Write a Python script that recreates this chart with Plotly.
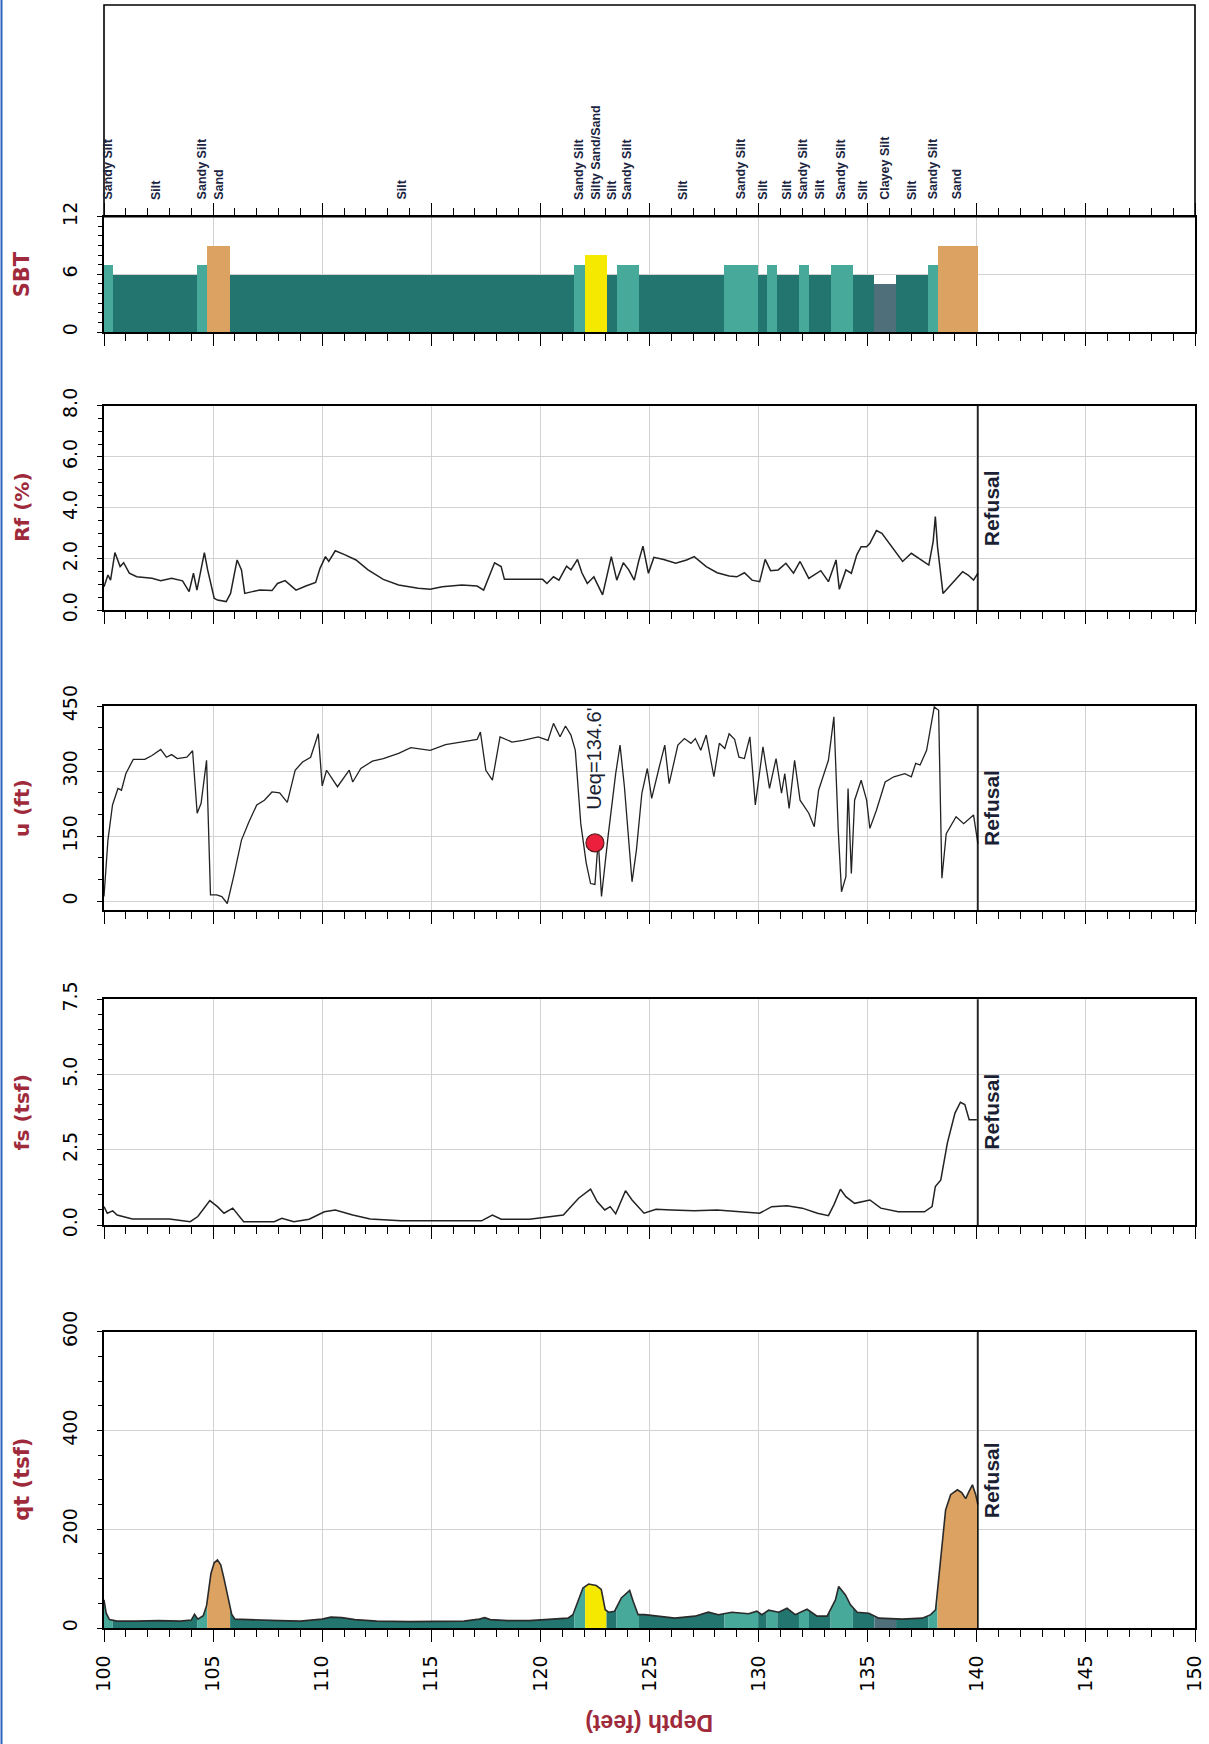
import numpy as np
import plotly.graph_objects as go

# ---------------- DATA ----------------
# SBT layers (depth top of each layer, type); last layer ends at refusal depth
layer_top = [100.0, 100.4, 104.27, 104.73, 105.78, 121.55, 122.05, 123.03, 123.49, 124.52,
             128.43, 129.98, 130.37, 130.86, 131.85, 132.31, 133.3, 134.32, 135.31, 136.3,
             137.78, 138.2]
refusal_depth = 140.05
layer_type = ["Sandy Silt", "Silt", "Sandy Silt", "Sand", "Silt", "Sandy Silt", "Silty Sand/Sand",
              "Silt", "Sandy Silt", "Silt", "Sandy Silt", "Silt", "Sandy Silt", "Silt", "Sandy Silt",
              "Silt", "Sandy Silt", "Silt", "Clayey Silt", "Silt", "Sandy Silt", "Sand"]
sbt_zone = {"Clayey Silt": 5, "Silt": 6, "Sandy Silt": 7, "Silty Sand/Sand": 8, "Sand": 9}

# SBT text labels (depth, text)
label_depth = [100.2, 102.35, 104.5, 105.3, 113.65, 121.8, 122.55, 123.25, 124.0, 126.5,
               129.2, 130.2, 131.3, 132.05, 132.8, 133.8, 134.75, 135.8, 137.0, 138.0, 139.1]
label_text = ["Sandy Silt", "Silt", "Sandy Silt", "Sand", "Silt", "Sandy Silt", "Silty Sand/Sand",
              "Silt", "Sandy Silt", "Silt", "Sandy Silt", "Silt", "Silt", "Sandy Silt", "Silt",
              "Sandy Silt", "Silt", "Clayey Silt", "Silt", "Sandy Silt", "Sand"]

# Rf (%)
rf_depth = [100.0, 100.18, 100.3, 100.5, 100.74, 100.9, 101.16, 101.5, 102.2, 102.6, 103.1, 103.6,
            103.9, 104.1, 104.26, 104.6, 104.75, 105.05, 105.2, 105.6, 105.8, 106.1, 106.3, 106.45,
            106.8, 107.15, 107.7, 107.95, 108.3, 108.8, 109.25, 109.7, 109.9, 110.15, 110.3, 110.6,
            111.05, 111.55, 112.1, 112.8, 113.5, 114.4, 114.95, 115.5, 116.4, 117.1, 117.4, 117.9,
            118.2, 118.35, 119.25, 120.1, 120.3, 120.6, 120.85, 121.2, 121.4, 121.7, 121.9, 122.15,
            122.45, 122.85, 123.25, 123.5, 123.8, 124.05, 124.3, 124.5, 124.7, 124.95, 125.2, 125.65,
            126.2, 126.7, 127.05, 127.6, 128.1, 128.65, 129.0, 129.35, 129.7, 130.05, 130.3, 130.55,
            130.9, 131.25, 131.6, 131.9, 132.3, 132.85, 133.2, 133.55, 133.7, 134.0, 134.25, 134.5,
            134.7, 134.95, 135.1, 135.4, 135.65, 136.2, 136.6, 137.0, 137.4, 137.8, 138.0, 138.1,
            138.2, 138.45, 138.8, 139.35, 139.6, 139.85, 140.05]
rf_value = [0.91, 1.37, 1.17, 2.25, 1.70, 1.85, 1.44, 1.30, 1.24, 1.15, 1.24, 1.14,
            0.72, 1.44, 0.78, 2.25, 1.57, 0.46, 0.39, 0.33, 0.65, 1.96, 1.57, 0.65,
            0.72, 0.78, 0.76, 1.04, 1.15, 0.78, 0.94, 1.08, 1.63, 2.09, 1.90, 2.32,
            2.16, 1.96, 1.57, 1.20, 0.98, 0.85, 0.81, 0.91, 0.98, 0.94, 0.78, 1.85,
            1.70, 1.20, 1.20, 1.20, 1.04, 1.30, 1.17, 1.72, 1.57, 1.98, 1.46, 1.04,
            1.30, 0.59, 2.09, 1.17, 1.85, 1.57, 1.17, 1.90, 2.50, 1.44, 2.06, 1.98,
            1.83, 1.96, 2.09, 1.70, 1.46, 1.33, 1.30, 1.46, 1.17, 1.11, 1.98, 1.54,
            1.57, 1.83, 1.44, 1.90, 1.24, 1.54, 1.11, 1.96, 0.81, 1.57, 1.44, 2.16,
            2.48, 2.48, 2.61, 3.11, 3.00, 2.35, 1.90, 2.22, 1.98, 1.76, 2.68, 3.66,
            2.48, 0.65, 0.98, 1.50, 1.37, 1.17, 1.44]

# u (ft)
u_depth = [100.0, 100.18, 100.39, 100.64, 100.8, 101.0, 101.34, 101.87, 102.2, 102.6, 102.86, 103.1,
           103.36, 103.8, 104.06, 104.27, 104.45, 104.7, 104.88, 105.16, 105.4, 105.65, 105.94, 106.3,
           106.64, 107.0, 107.35, 107.7, 108.05, 108.4, 108.76, 109.1, 109.47, 109.82, 110.0, 110.2,
           110.7, 111.24, 111.4, 111.77, 112.3, 112.8, 113.5, 114.06, 114.95, 115.65, 116.35, 117.1,
           117.25, 117.5, 117.8, 118.15, 118.7, 119.2, 119.9, 120.35, 120.6, 120.9, 121.15, 121.4,
           121.6, 121.85, 122.1, 122.3, 122.5, 122.65, 122.8, 123.1, 123.45, 123.65, 123.85, 124.05,
           124.2, 124.4, 124.65, 124.9, 125.1, 125.45, 125.7, 125.9, 126.3, 126.6, 126.9, 127.1,
           127.35, 127.6, 127.95, 128.2, 128.45, 128.65, 128.9, 129.1, 129.35, 129.6, 129.85, 130.2,
           130.5, 130.8, 131.05, 131.2, 131.4, 131.65, 131.9, 132.3, 132.55, 132.75, 133.2, 133.45,
           133.65, 133.8, 134.0, 134.1, 134.25, 134.4, 134.7, 134.95, 135.1, 135.4, 135.8, 136.2,
           136.7, 137.0, 137.2, 137.4, 137.7, 138.05, 138.25, 138.4, 138.6, 139.05, 139.4, 139.85,
           140.05]
u_value = [11, 141, 222, 260, 256, 294, 327, 327, 336, 350, 332, 338,
           329, 332, 347, 203, 226, 325, 15, 15, 11, -5, 57, 141,
           183, 222, 233, 252, 250, 228, 302, 321, 332, 386, 266, 302,
           264, 302, 275, 306, 323, 329, 341, 354, 348, 361, 367, 373,
           390, 302, 279, 379, 367, 371, 379, 371, 410, 379, 404, 383,
           348, 179, 88, 41, 39, 141, 11, 149, 294, 360, 264, 126,
           45, 118, 249, 306, 237, 310, 360, 271, 360, 375, 364, 375,
           348, 383, 287, 364, 352, 386, 373, 332, 329, 379, 222, 356,
           260, 329, 249, 294, 214, 325, 233, 203, 172, 256, 325, 425,
           164, 22, 57, 260, 64, 233, 279, 233, 168, 210, 275, 287,
           294, 287, 318, 314, 348, 448, 440, 53, 156, 195, 179, 199,
           133]
ueq_depth = [122.5]
ueq_value = [134.6]
ueq_text = "Ueq=134.6'"

# fs (tsf)
fs_depth = [100.0, 100.15, 100.4, 100.6, 101.3, 102.0, 103.0, 103.95, 104.3, 104.85, 105.2, 105.5,
            105.9, 106.4, 107.0, 107.8, 108.15, 108.7, 109.4, 110.1, 110.6, 111.4, 112.2, 113.6,
            115.0, 116.5, 117.3, 117.8, 118.2, 119.5, 120.35, 121.05, 121.75, 122.3, 122.6, 122.95,
            123.2, 123.45, 123.9, 124.2, 124.75, 125.3, 126.0, 127.05, 128.1, 129.2, 130.05, 130.6,
            131.3, 132.0, 132.7, 133.2, 133.45, 133.75, 134.0, 134.4, 135.1, 135.6, 136.4, 137.6,
            137.95, 138.1, 138.35, 138.65, 139.0, 139.25, 139.45, 139.65, 140.0]
fs_value = [0.61, 0.39, 0.47, 0.33, 0.20, 0.20, 0.20, 0.11, 0.28, 0.81, 0.61, 0.39,
            0.56, 0.11, 0.11, 0.11, 0.22, 0.11, 0.19, 0.44, 0.50, 0.33, 0.20, 0.14,
            0.14, 0.14, 0.14, 0.33, 0.19, 0.19, 0.26, 0.33, 0.89, 1.19, 0.78, 0.50,
            0.61, 0.37, 1.14, 0.83, 0.39, 0.52, 0.50, 0.47, 0.50, 0.44, 0.39, 0.61,
            0.64, 0.56, 0.39, 0.31, 0.67, 1.19, 0.94, 0.72, 0.83, 0.56, 0.44, 0.44,
            0.61, 1.28, 1.50, 2.72, 3.72, 4.08, 4.00, 3.50, 3.50]

# qt (tsf)
qt_depth = [100.0, 100.1, 100.25, 100.6, 101.5, 102.5, 103.5, 104.0, 104.15, 104.3, 104.55, 104.7,
            104.9, 105.05, 105.2, 105.35, 105.5, 105.7, 105.85, 106.0, 107.0, 108.0, 109.0, 110.0,
            110.4, 110.9, 111.5, 112.5, 114.0, 115.5, 116.5, 117.2, 117.45, 117.7, 118.5, 119.5,
            120.49, 121.26, 121.49, 121.72, 121.95, 122.21, 122.56, 122.79, 122.97, 123.13, 123.4,
            123.71, 124.09, 124.25, 124.48, 124.78, 125.4, 126.16, 127.08, 127.7, 128.16, 128.77,
            129.54, 129.92, 130.15, 130.46, 130.92, 131.3, 131.68, 132.22, 132.68, 133.14, 133.52,
            133.67, 133.98, 134.21, 134.52, 135.05, 135.51, 136.58, 137.5, 137.89, 138.11, 138.34,
            138.57, 138.8, 139.11, 139.31, 139.49, 139.65, 139.8, 139.95, 140.05]
qt_value = [57, 30, 17, 14, 14, 15, 14, 16, 28, 18, 25, 45,
            110, 132, 138, 128, 100, 55, 28, 18, 16, 15, 14, 18,
            22, 21, 17, 14, 13, 13, 14, 18, 21, 17, 15, 15,
            17, 20, 27, 54, 81, 89, 86, 78, 37, 32, 34,
            61, 76, 54, 27, 27, 24, 20, 24, 32, 27, 32,
            29, 34, 27, 36, 32, 40, 27, 38, 24, 24, 57,
            84, 67, 47, 32, 30, 20, 18, 20, 27, 37, 138,
            239, 270, 280, 274, 262, 277, 290, 270, 250]

depth_ticks = [100, 105, 110, 115, 120, 125, 130, 135, 140, 145, 150]

# ---------------- STYLE ----------------
zone_color = {"Clayey Silt": "#4f707a", "Silt": "#23766f", "Sandy Silt": "#47a99a",
              "Silty Sand/Sand": "#f5e900", "Sand": "#dca261"}
MAROON = "#9e2a3b"
GRID = "#d2d2d2"
TXT = "#1b1f33"

W, H = 1209, 1744
ML, MR, MT, MB = 104, 14, 4, 116
PH = H - MT - MB


def pdom(top_px, bot_px):
    lo = (H - MB - bot_px) / PH
    hi = (H - MB - top_px) / PH
    return [min(max(lo, 0.0), 1.0), min(max(hi, 0.0), 1.0)]


dom = {
    "lab": pdom(5, 216.7),
    "sbt": pdom(216.7, 332),
    "rf": pdom(405.7, 610),
    "u": pdom(706, 910),
    "fs": pdom(999.3, 1225),
    "qt": pdom(1331.7, 1628),
}

fig = go.Figure()

layer_bottom = layer_top[1:] + [refusal_depth]

# --- SBT bars ---
mids = [(a + b) / 2 for a, b in zip(layer_top, layer_bottom)]
widths = [b - a for a, b in zip(layer_top, layer_bottom)]
fig.add_trace(go.Bar(x=mids, y=[sbt_zone[t] for t in layer_type], width=widths,
                     marker=dict(color=[zone_color[t] for t in layer_type], line=dict(width=0)),
                     xaxis="x2", yaxis="y2", showlegend=False, hoverinfo="skip"))

# --- Rf ---
fig.add_trace(go.Scatter(x=rf_depth, y=rf_value, mode="lines", line=dict(color="#222222", width=1.5),
                         xaxis="x3", yaxis="y3", showlegend=False))
# --- u ---
fig.add_trace(go.Scatter(x=u_depth, y=u_value, mode="lines", line=dict(color="#222222", width=1.3),
                         xaxis="x4", yaxis="y4", showlegend=False))
fig.add_trace(go.Scatter(x=ueq_depth, y=ueq_value, mode="markers",
                         marker=dict(size=18, color="#ec1f3c", line=dict(color="#5a1a1a", width=1.2)),
                         xaxis="x4", yaxis="y4", showlegend=False))
# --- fs ---
fig.add_trace(go.Scatter(x=fs_depth, y=fs_value, mode="lines", line=dict(color="#222222", width=1.5),
                         xaxis="x5", yaxis="y5", showlegend=False))

# --- qt coloured fill by SBT layer ---
qd = np.array(qt_depth, dtype=float)
qv = np.array(qt_value, dtype=float)
for a, b, t in zip(layer_top, layer_bottom, layer_type):
    inside = (qd > a) & (qd < b)
    xs = np.concatenate([[a], qd[inside], [b]])
    ys = np.interp(xs, qd, qv)
    fig.add_trace(go.Scatter(x=xs, y=ys, mode="lines", line=dict(width=0), fill="tozeroy",
                             fillcolor=zone_color[t], xaxis="x6", yaxis="y6", showlegend=False,
                             hoverinfo="skip"))
fig.add_trace(go.Scatter(x=qt_depth, y=qt_value, mode="lines", line=dict(color="#2a2a2a", width=1.6),
                         xaxis="x6", yaxis="y6", showlegend=False))

# ---------------- AXES ----------------
tickfont = dict(family="DejaVu Sans", size=19, color="black")


def xaxis(anchor, labels=False, mirror=True, ticks=True):
    d = dict(range=[100, 150], domain=[0, 1], anchor=anchor, tickvals=depth_ticks,
             showgrid=True, gridcolor=GRID, gridwidth=1, zeroline=False, automargin=False,
             showline=True, linecolor="black", linewidth=1.6, mirror=mirror,
             showticklabels=labels, tickangle=-90, tickfont=tickfont, ticklabelstandoff=6)
    if ticks:
        d.update(ticks="outside", ticklen=12, tickwidth=1.3, tickcolor="black",
                 minor=dict(dtick=1, tick0=100, ticks="outside", ticklen=7, tickwidth=1.2,
                            tickcolor="black", showgrid=False))
    else:
        d.update(ticks="")
    return d


def yaxis(anchor, domain, rng, dtick, minor, fmt=None):
    d = dict(domain=domain, anchor=anchor, range=rng, dtick=dtick, tick0=0,
             showgrid=True, gridcolor=GRID, gridwidth=1, zeroline=False, automargin=False,
             showline=True, linecolor="black", linewidth=1.6, mirror=True,
             ticks="outside", ticklen=5, tickwidth=1.2, tickcolor="black",
             minor=dict(dtick=minor, tick0=0, ticks="outside", ticklen=4, tickwidth=1,
                        tickcolor="black", showgrid=False),
             tickangle=-90, tickfont=tickfont, ticklabelstandoff=13)
    if fmt:
        d["tickformat"] = fmt
    return d


fig.update_layout(
    width=W, height=H, margin=dict(l=ML, r=MR, t=MT, b=MB, autoexpand=False),
    paper_bgcolor="white", plot_bgcolor="white", bargap=0, barmode="overlay",
    xaxis=xaxis("y", ticks=False),
    yaxis=dict(domain=dom["lab"], anchor="x", range=[0, 1], showgrid=False, zeroline=False,
               showticklabels=False, ticks="", showline=False, automargin=False),
    xaxis2=xaxis("y2", mirror="ticks"),
    yaxis2=yaxis("x2", dom["sbt"], [0, 12], 6, 1),
    xaxis3=xaxis("y3"),
    yaxis3=yaxis("x3", dom["rf"], [0, 8], 2, 0.5, ".1f"),
    xaxis4=xaxis("y4"),
    yaxis4=yaxis("x4", dom["u"], [-20, 450], 150, 50),
    xaxis5=xaxis("y5"),
    yaxis5=yaxis("x5", dom["fs"], [0, 7.5], 2.5, 0.5, ".1f"),
    xaxis6=xaxis("y6", labels=True),
    yaxis6=yaxis("x6", dom["qt"], [0, 600], 200, 50),
)

# ---------------- ANNOTATIONS ----------------
ann = []
# SBT labels
for d, t in zip(label_depth, label_text):
    ann.append(dict(x=d, y=12, xref="x2", yref="y2", text="<b>%s</b>" % t, showarrow=False,
                    textangle=-90, xanchor="center", yanchor="bottom", yshift=15,
                    font=dict(family="Liberation Sans, Arial", size=12.5, color="#1c2540")))

# y-axis titles
title_x = (22 - ML) / (W - ML - MR)
for key, txt, sz in [("sbt", "SBT", 21), ("rf", "Rf (%)", 20), ("u", "u (ft)", 20),
                     ("fs", "fs (tsf)", 20), ("qt", "qt (tsf)", 21)]:
    y0, y1 = dom[key]
    ann.append(dict(x=title_x, y=(y0 + y1) / 2, xref="paper", yref="paper", text="<b>%s</b>" % txt,
                    showarrow=False, textangle=-90, xanchor="center", yanchor="middle",
                    font=dict(family="DejaVu Sans", size=sz, color=MAROON)))

# Refusal texts and lines
shapes = []
for xr, yr, yv in [("x3", "y3", 4.0), ("x4", "y4", 216), ("x5", "y5", 3.78), ("x6", "y6", 300)]:
    ann.append(dict(x=refusal_depth, y=yv, xref=xr, yref=yr, text="<b>Refusal</b>", showarrow=False,
                    textangle=-90, xanchor="left", yanchor="middle", xshift=0,
                    font=dict(family="Liberation Sans, Arial", size=21, color=TXT)))
    shapes.append(dict(type="line", x0=refusal_depth, x1=refusal_depth, xref=xr,
                       y0=0, y1=1, yref=yr + " domain", line=dict(color="black", width=1.5)))

# Ueq label
ann.append(dict(x=ueq_depth[0] - 0.05, y=206, xref="x4", yref="y4", text=ueq_text, showarrow=False,
                textangle=-90, xanchor="center", yanchor="bottom",
                font=dict(family="Liberation Sans, Arial", size=20, color=TXT)))

# Depth title (upside down)
ann.append(dict(x=125, y=(H - MB - 1723) / PH, xref="x6", yref="paper", text="<b>Depth (feet)</b>",
                showarrow=False, textangle=180, xanchor="center", yanchor="middle",
                font=dict(family="Liberation Sans, Arial", size=23, color=MAROON)))

# frame of the SBT label box
shapes.append(dict(type="rect", xref="paper", yref="paper", x0=0, x1=1,
                   y0=dom["lab"][0], y1=dom["lab"][1],
                   line=dict(color="black", width=1.6), fillcolor="rgba(0,0,0,0)"))

# scanned page edge on the left
pw = W - ML - MR
shapes.append(dict(type="line", xref="paper", yref="paper", x0=(1.5 - ML) / pw, x1=(1.5 - ML) / pw,
                   y0=-MB / PH, y1=(H - MB) / PH, line=dict(color="#2c63c0", width=2)))

fig.update_layout(annotations=ann, shapes=shapes)

fig.write_html("out.html", config={"displayModeBar": False},
               post_script="document.body.style.margin='0px';document.body.style.overflow='hidden';")
